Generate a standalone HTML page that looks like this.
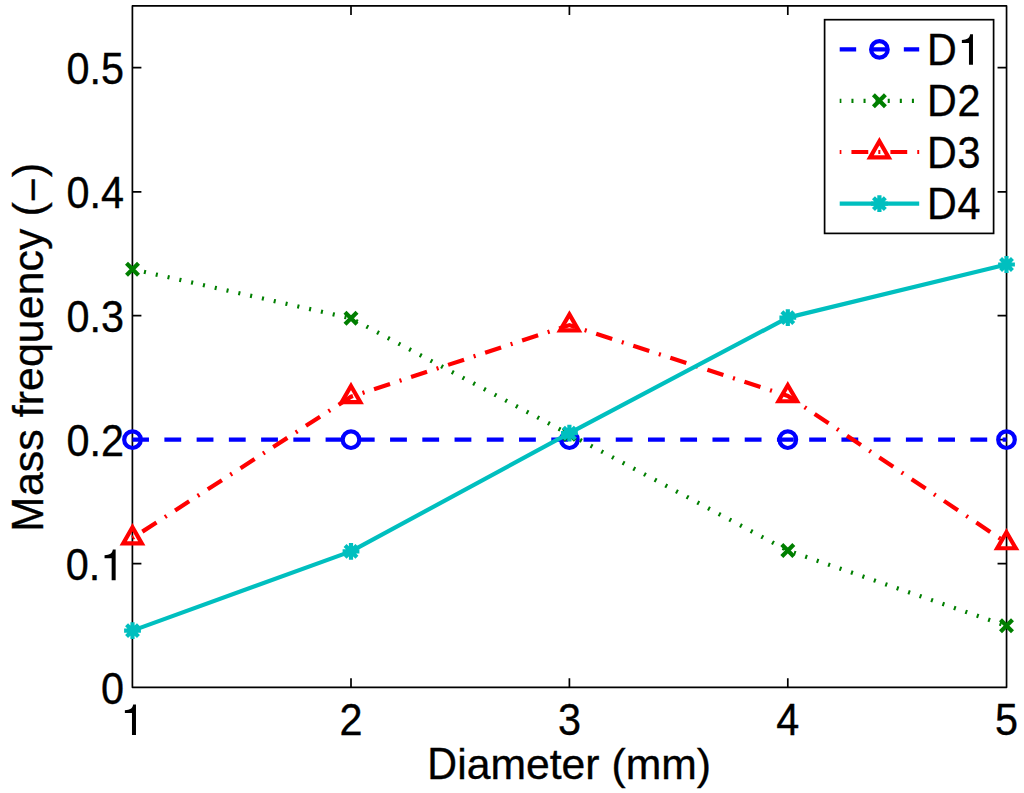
<!DOCTYPE html>
<html><head><meta charset="utf-8"><title>chart</title>
<style>
html,body{margin:0;padding:0;background:#fff;}
body{width:1024px;height:793px;overflow:hidden;}
svg{display:block;}
text{font-family:"Liberation Sans",sans-serif;fill:#000;stroke:#000;stroke-width:0.35px;}
</style></head><body>
<svg width="1024" height="793" viewBox="0 0 1024 793">
<rect width="1024" height="793" fill="#fff"/>
<rect x="132.4" y="5.95" width="874.15" height="681.3499999999999" fill="none" stroke="#000" stroke-width="1.7" stroke-linejoin="round"/>
<path d="M351.0,687.3V678.3M351.0,5.95V14.95" stroke="#000" stroke-width="1.7"/>
<path d="M569.4,687.3V678.3M569.4,5.95V14.95" stroke="#000" stroke-width="1.7"/>
<path d="M787.8,687.3V678.3M787.8,5.95V14.95" stroke="#000" stroke-width="1.7"/>
<path d="M132.4,563.67H141.4M1006.55,563.67H997.55" stroke="#000" stroke-width="1.7"/>
<path d="M132.4,439.70H141.4M1006.55,439.70H997.55" stroke="#000" stroke-width="1.7"/>
<path d="M132.4,315.67H141.4M1006.55,315.67H997.55" stroke="#000" stroke-width="1.7"/>
<path d="M132.4,191.85H141.4M1006.55,191.85H997.55" stroke="#000" stroke-width="1.7"/>
<path d="M132.4,67.67H141.4M1006.55,67.67H997.55" stroke="#000" stroke-width="1.7"/>
<text transform="translate(124.10,703.80) scale(0.965,1.015)" font-size="42.9" text-anchor="end">0</text>
<text transform="translate(100.25,580.17) scale(0.965,1.015)" font-size="42.9" text-anchor="end">0.</text>
<path transform="translate(100.25,580.17)" d="M15.4,0V-30.6H12.6C12.0,-26.9 9.6,-25.1 4.3,-24.8V-21.9H11.4V0Z" fill="#000"/>
<text transform="translate(124.10,456.20) scale(0.965,1.015)" font-size="42.9" text-anchor="end">0.2</text>
<text transform="translate(124.10,332.17) scale(0.965,1.015)" font-size="42.9" text-anchor="end">0.3</text>
<text transform="translate(124.10,208.35) scale(0.965,1.015)" font-size="42.9" text-anchor="end">0.4</text>
<text transform="translate(124.10,84.17) scale(0.965,1.015)" font-size="42.9" text-anchor="end">0.5</text>
<path transform="translate(120.57,735.00)" d="M15.4,0V-30.6H12.6C12.0,-26.9 9.6,-25.1 4.3,-24.8V-21.9H11.4V0Z" fill="#000"/>
<text transform="translate(351.00,735.20) scale(0.965,1.015)" font-size="42.9" text-anchor="middle">2</text>
<text transform="translate(569.40,735.20) scale(0.965,1.015)" font-size="42.9" text-anchor="middle">3</text>
<text transform="translate(787.80,735.20) scale(0.965,1.015)" font-size="42.9" text-anchor="middle">4</text>
<text transform="translate(1006.50,735.20) scale(0.965,1.015)" font-size="42.9" text-anchor="middle">5</text>
<text transform="translate(427.21,779.00) scale(0.96,1.05)" font-size="42.9">D</text>
<text transform="translate(457.19,779.00) scale(0.9955,0.97)" font-size="42.9">iameter (mm)</text>
<text transform="translate(43.00,531.77) rotate(-90) scale(0.98,1.05)" font-size="42.9">M</text>
<text transform="translate(43.00,496.03) rotate(-90) scale(1.0,0.98)" font-size="42.9"><tspan letter-spacing="0.04">ass frequency (</tspan><tspan dy="3.8">−</tspan><tspan dy="-3.8">)</tspan></text>
<polyline points="132.50,439.70 351.00,439.70 569.40,439.70 787.80,439.70 1006.50,439.70" fill="none" stroke="#0000ff" stroke-width="4.2" stroke-dasharray="16.82,15.42" stroke-dashoffset="0.35"/>
<circle cx="132.50" cy="439.70" r="8.3" fill="none" stroke="#0000ff" stroke-width="4.2"/>
<circle cx="351.00" cy="439.70" r="8.3" fill="none" stroke="#0000ff" stroke-width="4.2"/>
<circle cx="569.40" cy="439.70" r="8.3" fill="none" stroke="#0000ff" stroke-width="4.2"/>
<circle cx="787.80" cy="439.70" r="8.3" fill="none" stroke="#0000ff" stroke-width="4.2"/>
<circle cx="1006.50" cy="439.70" r="8.3" fill="none" stroke="#0000ff" stroke-width="4.2"/>
<polyline points="132.50,269.20 351.00,318.30 569.40,434.30 787.80,550.60 1006.50,625.85" fill="none" stroke="#007f00" stroke-width="4.2" stroke-dasharray="2.04,10.05" stroke-dashoffset="0.35"/>
<path d="M126.50,263.20L138.50,275.20M126.50,275.20L138.50,263.20" stroke="#007f00" stroke-width="4.2" fill="none"/>
<path d="M345.00,312.30L357.00,324.30M345.00,324.30L357.00,312.30" stroke="#007f00" stroke-width="4.2" fill="none"/>
<path d="M563.40,428.30L575.40,440.30M563.40,440.30L575.40,428.30" stroke="#007f00" stroke-width="4.2" fill="none"/>
<path d="M781.80,544.60L793.80,556.60M781.80,556.60L793.80,544.60" stroke="#007f00" stroke-width="4.2" fill="none"/>
<path d="M1000.50,619.85L1012.50,631.85M1000.50,631.85L1012.50,619.85" stroke="#007f00" stroke-width="4.2" fill="none"/>
<polyline points="132.50,538.00 351.00,396.70 569.40,325.10 787.80,395.90 1006.50,542.90" fill="none" stroke="#ff0000" stroke-width="4.2" stroke-dasharray="2.04,10.05,16.82,10.05" stroke-dashoffset="0.35"/>
<path d="M132.50,527.30L141.77,543.35L123.23,543.35Z" stroke="#ff0000" stroke-width="4.2" fill="none" stroke-linejoin="miter" stroke-miterlimit="10"/>
<path d="M351.00,386.00L360.27,402.05L341.73,402.05Z" stroke="#ff0000" stroke-width="4.2" fill="none" stroke-linejoin="miter" stroke-miterlimit="10"/>
<path d="M569.40,314.40L578.67,330.45L560.13,330.45Z" stroke="#ff0000" stroke-width="4.2" fill="none" stroke-linejoin="miter" stroke-miterlimit="10"/>
<path d="M787.80,385.20L797.07,401.25L778.53,401.25Z" stroke="#ff0000" stroke-width="4.2" fill="none" stroke-linejoin="miter" stroke-miterlimit="10"/>
<path d="M1006.50,532.20L1015.77,548.25L997.23,548.25Z" stroke="#ff0000" stroke-width="4.2" fill="none" stroke-linejoin="miter" stroke-miterlimit="10"/>
<polyline points="132.50,630.60 351.00,551.40 569.40,433.20 787.80,317.65 1006.50,264.50" fill="none" stroke="#00bfbf" stroke-width="4.2" stroke-linejoin="round"/>
<path d="M124.10,630.60L140.90,630.60M132.50,622.20L132.50,639.00M126.56,624.66L138.44,636.54M126.56,636.54L138.44,624.66" stroke="#00bfbf" stroke-width="4.2" fill="none"/>
<path d="M342.60,551.40L359.40,551.40M351.00,543.00L351.00,559.80M345.06,545.46L356.94,557.34M345.06,557.34L356.94,545.46" stroke="#00bfbf" stroke-width="4.2" fill="none"/>
<path d="M561.00,433.20L577.80,433.20M569.40,424.80L569.40,441.60M563.46,427.26L575.34,439.14M563.46,439.14L575.34,427.26" stroke="#00bfbf" stroke-width="4.2" fill="none"/>
<path d="M779.40,317.65L796.20,317.65M787.80,309.25L787.80,326.05M781.86,311.71L793.74,323.59M781.86,323.59L793.74,311.71" stroke="#00bfbf" stroke-width="4.2" fill="none"/>
<path d="M998.10,264.50L1014.90,264.50M1006.50,256.10L1006.50,272.90M1000.56,258.56L1012.44,270.44M1000.56,270.44L1012.44,258.56" stroke="#00bfbf" stroke-width="4.2" fill="none"/>
<rect x="824.6" y="19.7" width="169.0" height="213.70000000000002" fill="#fff" stroke="#000" stroke-width="1.7"/>
<text transform="translate(926.90,64.80) scale(0.96,1.05)" font-size="42.9">D</text>
<path transform="translate(957.57,64.80)" d="M15.4,0V-30.6H12.6C12.0,-26.9 9.6,-25.1 4.3,-24.8V-21.9H11.4V0Z" fill="#000"/>
<text transform="translate(926.90,116.40) scale(0.96,1.05)" font-size="42.9">D</text>
<text transform="translate(957.57,116.40) scale(0.965,1.015)" font-size="42.9">2</text>
<text transform="translate(926.90,167.80) scale(0.96,1.05)" font-size="42.9">D</text>
<text transform="translate(957.57,167.80) scale(0.965,1.015)" font-size="42.9">3</text>
<text transform="translate(926.90,219.40) scale(0.96,1.05)" font-size="42.9">D</text>
<text transform="translate(957.57,219.40) scale(0.965,1.015)" font-size="42.9">4</text>
<path d="M839.7,49.4H919.2" stroke="#0000ff" stroke-width="4.2" stroke-dasharray="16.82,15.42" stroke-dashoffset="0.35" fill="none"/>
<circle cx="879.40" cy="49.40" r="8.3" fill="none" stroke="#0000ff" stroke-width="4.2"/>
<path d="M839.7,100.8H919.2" stroke="#007f00" stroke-width="4.2" stroke-dasharray="2.04,10.05" stroke-dashoffset="0.35" fill="none"/>
<path d="M873.40,94.80L885.40,106.80M873.40,106.80L885.40,94.80" stroke="#007f00" stroke-width="4.2" fill="none"/>
<path d="M839.7,152.0H919.2" stroke="#ff0000" stroke-width="4.2" stroke-dasharray="2.04,10.05,16.82,10.05" stroke-dashoffset="0.35" fill="none"/>
<path d="M879.40,141.30L888.67,157.35L870.13,157.35Z" stroke="#ff0000" stroke-width="4.2" fill="none" stroke-linejoin="miter" stroke-miterlimit="10"/>
<path d="M839.7,203.6H919.2" stroke="#00bfbf" stroke-width="4.2" fill="none"/>
<path d="M871.00,203.60L887.80,203.60M879.40,195.20L879.40,212.00M873.46,197.66L885.34,209.54M873.46,209.54L885.34,197.66" stroke="#00bfbf" stroke-width="4.2" fill="none"/>
</svg></body></html>
